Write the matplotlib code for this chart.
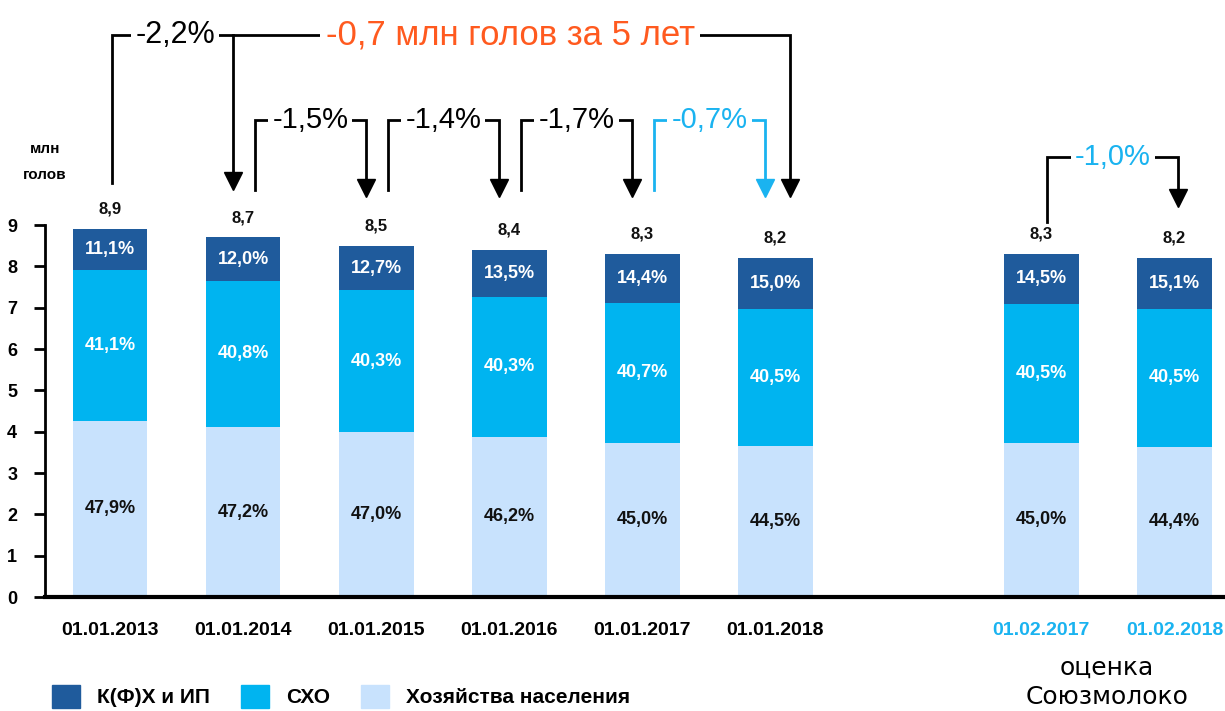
import numpy as np
import matplotlib.pyplot as plt
from matplotlib.patches import Patch

# data
dates = ['01.01.2013', '01.01.2014', '01.01.2015', '01.01.2016', '01.01.2017',
         '01.01.2018', '01.02.2017', '01.02.2018']
xpos = np.array([0, 1, 2, 3, 4, 5, 7, 8])
totals = np.array([8.9, 8.7, 8.5, 8.4, 8.3, 8.2, 8.3, 8.2])
pct_hh = np.array([47.9, 47.2, 47.0, 46.2, 45.0, 44.5, 45.0, 44.4])   # Хозяйства населения
pct_sho = np.array([41.1, 40.8, 40.3, 40.3, 40.7, 40.5, 40.5, 40.5])  # СХО
pct_kfh = np.array([11.1, 12.0, 12.7, 13.5, 14.4, 15.0, 14.5, 15.1])  # К(Ф)Х и ИП
changes = ['-2,2%', '-1,5%', '-1,4%', '-1,7%', '-0,7%']
change_est = '-1,0%'
total_change = '-0,7 млн голов за 5 лет'

c_kfh = '#1f5b9c'
c_sho = '#00b4f0'
c_hh = '#c8e2fd'
c_cyan = '#1ab3f0'
c_red = '#ff5a1f'

plt.rcParams['font.family'] = ['Liberation Sans', 'DejaVu Sans']

fig = plt.figure(figsize=(12.25, 7.11), dpi=100)
ax = fig.add_axes([45/1225, 114/711, 1 - 45/1225, 1 - 114/711])
ax.set_xlim(-0.49, 8.38)
ax.set_ylim(0, 597/41.33)

w = 0.56
h_hh = totals*pct_hh/100
h_sho = totals*pct_sho/100
h_kfh = totals - h_hh - h_sho
ax.bar(xpos, h_hh, w, color=c_hh, zorder=2)
ax.bar(xpos, h_sho, w, bottom=h_hh, color=c_sho, zorder=2)
ax.bar(xpos, h_kfh, w, bottom=h_hh + h_sho, color=c_kfh, zorder=2)

fmt = lambda v: ('%.1f' % v).replace('.', ',')
for i, x in enumerate(xpos):
    ax.text(x, h_hh[i]/2, fmt(pct_hh[i]) + '%', ha='center', va='center',
            fontsize=13, fontweight='bold', color='#111111')
    ax.text(x, h_hh[i] + h_sho[i]/2, fmt(pct_sho[i]) + '%', ha='center', va='center',
            fontsize=13, fontweight='bold', color='white')
    ax.text(x, h_hh[i] + h_sho[i] + h_kfh[i]/2, fmt(pct_kfh[i]) + '%', ha='center',
            va='center', fontsize=13, fontweight='bold', color='white')
    ax.text(x, totals[i] + 0.3, fmt(totals[i]), ha='center', va='bottom',
            fontsize=12, fontweight='bold', color='#111111')

# axes styling
for s in ['top', 'right']:
    ax.spines[s].set_visible(False)
ax.spines['left'].set_bounds(0, 9)
ax.spines['left'].set_linewidth(2)
ax.spines['bottom'].set_linewidth(3)
ax.set_yticks(range(10))
ax.set_yticklabels([str(i) for i in range(10)], fontsize=13, fontweight='bold')
ax.tick_params(axis='y', length=8, width=2, pad=12)
ax.set_xticks(xpos)
ax.set_xticklabels(dates, fontsize=14, fontweight='bold')
ax.tick_params(axis='x', length=0, pad=18)
for lbl in ax.get_xticklabels()[6:]:
    lbl.set_color(c_cyan)
ax.text(-0.49, 10.85, 'млн', ha='center', va='center', fontsize=11, fontweight='bold')
ax.text(-0.49, 10.2, 'голов', ha='center', va='center', fontsize=11, fontweight='bold')

# change brackets
def arrow(x, ytip, color):
    ax.plot([x], [ytip + 0.22], marker='v', markersize=13, color=color, zorder=4)

def bracket(x0, x1, y0, ytop, ytip, label, tcolor, lcolor, fs):
    ax.plot([x0, x0, x1, x1], [y0, ytop, ytop, ytip + 0.3], color=lcolor, lw=2,
            solid_joinstyle='miter', zorder=3)
    arrow(x1, ytip, lcolor)
    ax.text((x0 + x1)/2, ytop, label, ha='center', va='center', fontsize=fs,
            color=tcolor, zorder=5,
            bbox=dict(facecolor='white', edgecolor='none', pad=3))

ytop2 = (597 - 120)/41.33
ytip2 = (597 - 197)/41.33
y02 = (597 - 190)/41.33
for i in range(1, 5):
    lc = 'black' if i < 4 else c_cyan
    tc = 'black' if i < 4 else c_cyan
    bracket(xpos[i] + 0.09, xpos[i+1] - 0.08, y02, ytop2, ytip2, changes[i], tc, lc, 21)

# top long bracket
ytop1 = (597 - 35)/41.33
x0 = xpos[0] + 0.015
x1 = xpos[5] + 0.11
ax.plot([x0, x0, x1, x1], [(597 - 183)/41.33, ytop1, ytop1, ytip2 + 0.3], color='black',
        lw=2, solid_joinstyle='miter', zorder=3)
arrow(x1, ytip2, 'black')
xa = xpos[1] - 0.08
ax.plot([xa, xa], [ytop1, ytip2 + 0.5], color='black', lw=2, zorder=3)
arrow(xa, (597 - 190)/41.33, 'black')
ax.text((x0 + xa)/2 + 0.02, ytop1, changes[0], ha='center', va='center', fontsize=22,
        color='black', zorder=5, bbox=dict(facecolor='white', edgecolor='none', pad=3))
ax.text((320 + 700)/2/133 - 110/133, ytop1, total_change, ha='center', va='center',
        fontsize=25, color=c_red, zorder=5,
        bbox=dict(facecolor='white', edgecolor='none', pad=4))

# estimate bracket
bracket(xpos[6] + 0.04, xpos[7] + 0.03, (597 - 222)/41.33, (597 - 157)/41.33,
        (597 - 207)/41.33, change_est, c_cyan, 'black', 21)

fig.text(1107/1225, 1 - 668/711, 'оценка', ha='center', va='center', fontsize=18,
         family='DejaVu Sans')
fig.text(1107/1225, 1 - 697/711, 'Союзмолоко', ha='center', va='center', fontsize=18,
         family='DejaVu Sans')

handles = [Patch(color=c_kfh), Patch(color=c_sho), Patch(color=c_hh)]
fig.legend(handles, ['К(Ф)Х и ИП', 'СХО', 'Хозяйства населения'], ncol=3,
           loc='lower left', bbox_to_anchor=(52/1225, 3/711), frameon=False,
           borderpad=0, borderaxespad=0,
           handlelength=1.35, handleheight=1.35, columnspacing=1.5, handletextpad=0.8,
           prop={'size': 15, 'weight': 'bold'})

fig.savefig('out.png', dpi=100)
